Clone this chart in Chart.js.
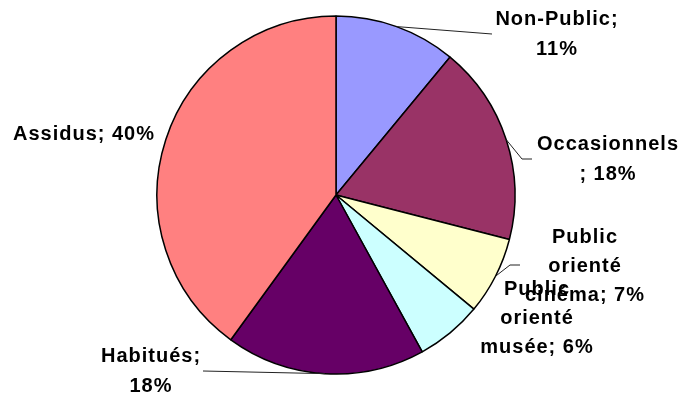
<!DOCTYPE html>
<html>
<head>
<meta charset="utf-8">
<script src="https://cdn.jsdelivr.net/npm/chart.js@4/dist/chart.umd.min.js"></script>
<style>
  html, body { margin: 0; padding: 0; background: #fff; }
  #wrap { width: 683px; height: 393px; position: relative; }
</style>
</head>
<body>
<div id="wrap"><canvas id="c" width="683" height="393"></canvas></div>
<script>
// Audience segments (share of public, %)
const categories = ['Non-Public', 'Occasionnels', 'Public orienté cinéma', 'Public orienté musée', 'Habitués', 'Assidus'];
const shares = [11, 18, 7, 6, 18, 40];
const sliceColors = ['#9999FF', '#993366', '#FFFFCC', '#CCFFFF', '#660066', '#FF8080'];

// Label placement, relative to the pie centre: text centre x, line baselines,
// how many words go on each line, and the elbow points of the leader line.
const labelLayout = [
  { tx: 221, ys: [-170, -140], groups: [2, 1], leader: [[156, -161]] },
  { tx: 272, ys: [-45, -15], groups: [1, 2], leader: [[186, -36], [196, -36]] },
  { tx: 249, ys: [48, 77, 106], groups: [1, 1, 3], leader: [[174, 70], [184, 70]] },
  { tx: 201, ys: [100, 129, 158], groups: [1, 1, 3], leader: null },
  { tx: -185, ys: [167, 197], groups: [2, 1], leader: [[-133, 176]] },
  { tx: -252, ys: [-55], groups: [3], leader: null }
];

function labelLines(i) {
  const tokens = categories[i].split(' ').concat([';', shares[i] + '%']);
  const out = [];
  let k = 0;
  for (const n of labelLayout[i].groups) {
    out.push(tokens.slice(k, k + n).join(' ').replace(' ;', ';'));
    k += n;
  }
  return out;
}

const sliceLabels = {
  id: 'sliceLabels',
  afterDraw(chart) {
    const ctx = chart.ctx;
    const arcs = chart.getDatasetMeta(0).data;
    ctx.save();
    arcs.forEach((arc, i) => {
      const p = arc.getProps(['x', 'y', 'startAngle', 'endAngle', 'outerRadius'], true);
      const cx = p.x, cy = p.y;
      const lay = labelLayout[i];
      if (lay.leader) {
        const mid = (p.startAngle + p.endAngle) / 2;
        ctx.beginPath();
        ctx.moveTo(cx + Math.cos(mid) * p.outerRadius, cy + Math.sin(mid) * p.outerRadius);
        lay.leader.forEach(([dx, dy]) => ctx.lineTo(cx + dx, cy + dy));
        ctx.strokeStyle = '#222';
        ctx.lineWidth = 1;
        ctx.stroke();
      }
      ctx.fillStyle = '#000';
      ctx.font = 'bold 20px "Liberation Sans", Arial, sans-serif';
      ctx.letterSpacing = '1px';
      ctx.textAlign = 'center';
      ctx.textBaseline = 'alphabetic';
      labelLines(i).forEach((line, j) => {
        ctx.fillText(line, cx + lay.tx, cy + lay.ys[j]);
      });
    });
    ctx.restore();
  }
};

new Chart(document.getElementById('c'), {
  type: 'pie',
  data: {
    labels: categories,
    datasets: [{
      data: shares,
      backgroundColor: sliceColors,
      borderColor: '#000',
      borderWidth: 1.5
    }]
  },
  options: {
    responsive: false,
    animation: false,
    radius: 179,
    layout: { padding: { left: 150, right: 161, top: 10, bottom: 13 } },
    plugins: {
      legend: { display: false },
      tooltip: { enabled: false }
    }
  },
  plugins: [sliceLabels]
});
</script>
</body>
</html>
